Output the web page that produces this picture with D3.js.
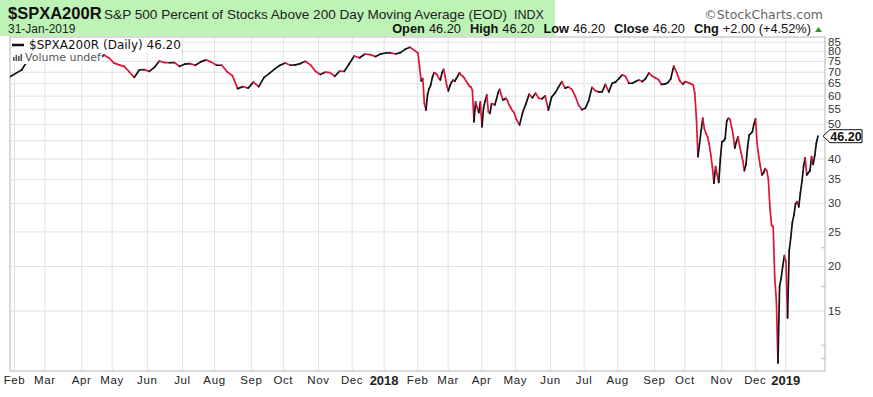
<!DOCTYPE html>
<meta charset="utf-8">
<head>
<style>
  body { margin: 0; background: #fff; }
  svg text { font-family: "Liberation Sans", Arial, sans-serif; }
  .grid line { stroke: #e2e2e2; }
  .grid path { display: none; }
</style>
<title>$SPXA200R</title>
</head>
<svg width="873" height="397"></svg>
<script src="https://cdn.jsdelivr.net/npm/d3@7"></script>
<script>

// header texts
var symbol = "$SPXA200R";
var title = "S&P 500 Percent of Stocks Above 200 Day Moving Average (EOD)";
var exchange = "INDX";
var dateLabel = "31-Jan-2019";
var quoteLabels = ["Open", "High", "Low", "Close", "Chg"];
var quoteValues = ["46.20", "46.20", "46.20", "46.20", "+2.00 (+4.52%)"];
var lastValue = 46.20;

// months from Jan 2017 to Jan 2019, trading days in each
var monthNames = ["Jan","Feb","Mar","Apr","May","Jun","Jul","Aug","Sep","Oct","Nov","Dec"];
var tradingDays = [20,19,23,19,22,22,20,23,20,22,21,20, 21,19,21,21,22,21,21,23,19,23,21,19, 21];

// values, each month spread over its trading days
var vals2017 = [
  [70, 69, 68.5, 67.8],
  [69.5, 70.8, 74.5, 76, 77.5, 76.5],
  [78, 77, 76, 74.5, 75.5, 74, 75],
  [76, 75, 74.5, 76, 78, 76.5],
  [74, 73.2, 72.5, 70, 67.5, 70.8, 71],
  [70.2, 72, 75, 74.3, 74.2, 74.3, 72.5],
  [73.5, 73.8, 73, 74.6, 75.6, 74.5],
  [73, 73, 70, 68.3, 62.8, 63.6, 63],
  [65.5, 63.6, 67.5, 69.3, 71.3, 73],
  [74.1, 73, 73.2, 73.8, 74.9, 73.2, 70.2],
  [68.8, 69.8, 69.6, 68, 70.3, 70.2, 73.7],
  [77.5, 76.6, 78.5, 78.2, 77.2, 78.6]
];
var vals2018 = [
  [79, 79.1, 78.5, 79.2, 80.9, 82, 80.2],
  [79, 72, 66, 67, 57, 54.7, 60.5, 62.8, 64.3, 67.5, 69.6, 69.3, 68.6, 67.2, 66.4, 69.5, 71.1, 68, 64],
  [61.9, 64, 65.5, 66.4, 65.8, 67.1, 68.3, 69.6, 68.5, 68, 67.2, 66, 65, 63.8, 63.5, 62.2, 50.7, 57.7, 55.5, 53.8, 57.7],
  [49.1, 55.5, 58, 60.3, 54, 53.5, 57, 56.8, 56.5, 58.5, 61, 62.5, 60.5, 58.4, 58.6, 59, 58, 56.5, 55.5, 54.5, 53.8],
  [51.5, 49.7, 54, 57, 60.6, 59.2, 61, 59, 58.8, 59.9, 54.7],
  [59.5, 61, 63.3, 65.7, 63, 63.5, 62.5, 59.9, 56.5, 54.8],
  [55.3, 58, 63.3, 62, 61.5, 61.5, 64.5, 61.5, 65, 65.5],
  [67, 68.6, 68, 65, 65, 65.7, 66.4, 65.7, 67, 69.5, 68],
  [67.3, 66.5, 64.5, 64.6, 65.2, 66.8, 72.6, 69.5, 66, 64.6],
  [65.7, 65.5, 65.2, 65, 64.6, 64.3, 61, 52, 40.5, 44, 48, 51.9, 48.5, 47, 46, 44, 41, 37.9, 34.1, 38, 36, 34.3, 40],
  [44.6, 44.8, 45.5, 51, 51.9, 51.5, 49, 46.6, 42.8, 44.5, 46, 43.5, 41.5, 39.5, 37, 38.5, 43, 46.5, 47, 47.5, 50],
  [51.7, 44, 40.5, 38, 36, 36.5, 37.5, 37, 35, 29, 26, 25.8, 18.5, 16, 10.7, 17.5, 18.5, 20, 21.4]
];
var vals2019 = [
  [20.6, 14.3, 22, 24, 26.5, 27.8, 29.9, 30.3, 29.3, 32, 34.5, 38, 40.2, 36, 36.5, 37, 40.5, 38.5, 40.8, 44.2, 46.2]
];

var yGrid = [15, 20, 25, 30, 35, 40, 45, 50, 55, 60, 65, 70, 75, 80, 85];
var yMinor = [11, 12, 17.5, 22.5];

var svg = d3.select("svg");
var plotL = 10, plotR = 825, plotT = 37, plotB = 371;

var x = d3.scaleLinear().domain([-2.5, 506.9]).range([plotL, plotR]);
var y = d3.scaleLog().domain([10.16, 87.6]).range([plotB, plotT]);

// points by trading day
var allMonths = vals2017.concat(vals2018, vals2019);
var pts = [], starts = [];
var d0 = -tradingDays[0];
allMonths.forEach(function(vals, m) {
  starts.push({ d: d0, month: m % 12, year: 2017 + Math.floor(m / 12) });
  vals.forEach(function(v, i) {
    pts.push({ d: d0 + (i + 0.5) * tradingDays[m] / vals.length, v: v });
  });
  d0 += tradingDays[m];
});
var ticks = starts.filter(function(s) { return s.d >= x.domain()[0]; });

// header
svg.append("rect").attr("x", 0).attr("y", 0).attr("width", 555).attr("height", 36)
  .attr("fill", "#bdf3b5");
svg.append("text").attr("x", 8).attr("y", 19).attr("font-size", "16.5px")
  .attr("font-weight", "bold").attr("fill", "#111").text(symbol);
svg.append("text").attr("x", 104).attr("y", 19).attr("font-size", "13.6px")
  .attr("fill", "#222").text(title);
svg.append("text").attr("x", 514).attr("y", 19).attr("font-size", "12.5px")
  .attr("fill", "#222").text(exchange);
svg.append("text").attr("x", 823).attr("y", 19).attr("text-anchor", "end")
  .attr("font-size", "12.5px").attr("fill", "#666")
  .style("font-family", "'DejaVu Sans', sans-serif").text("\u00a9StockCharts.com");
svg.append("text").attr("x", 8).attr("y", 33).attr("font-size", "12px")
  .attr("fill", "#222").text(dateLabel);

var quote = svg.append("text").attr("x", 811).attr("y", 33).attr("text-anchor", "end")
  .attr("font-size", "12.8px").attr("fill", "#111");
quoteLabels.forEach(function(l, i) {
  quote.append("tspan").attr("dx", i ? 9 : 0).attr("font-weight", "bold").text(l);
  quote.append("tspan").attr("dx", 4).text(quoteValues[i]);
});
svg.append("path").attr("d", "M815,32 L822,32 L818.5,27 Z").attr("fill", "#2c9a2c");

// grid and axes
svg.append("g").attr("class", "grid")
  .attr("transform", "translate(" + plotR + ",0)")
  .call(d3.axisRight(y).tickValues(yGrid).tickSize(-(plotR - plotL)).tickPadding(3)
    .tickFormat(function(v) { return Math.abs(y(v) - y(lastValue)) < 9 ? "" : v; }))
  .call(function(g) {
    g.selectAll("text").attr("font-size", "11.5px").attr("fill", "#333")
      .style("font-family", "'Liberation Sans', Arial, sans-serif");
  });

svg.append("g").attr("class", "grid")
  .attr("transform", "translate(0," + plotB + ")")
  .call(d3.axisBottom(x).tickValues(ticks.map(function(t) { return t.d; }))
    .tickSize(-(plotB - plotT)).tickPadding(5)
    .tickFormat(function(d, i) {
      var t = ticks[i];
      return t.month === 0 ? t.year : monthNames[t.month];
    }))
  .call(function(g) {
    g.selectAll("text").attr("font-size", "11.5px").attr("fill", "#222")
      .style("letter-spacing", "0.6px")
      .style("font-family", "'Liberation Sans', Arial, sans-serif")
      .filter(function(d, i) { return ticks[i].month === 0; })
      .attr("font-weight", "bold").attr("font-size", "13px").style("letter-spacing", "0");
  });

// minor ticks on the right edge
svg.append("g").selectAll("line").data(yMinor).enter().append("line")
  .attr("x1", plotR - 4).attr("x2", plotR)
  .attr("y1", function(v) { return y(v); }).attr("y2", function(v) { return y(v); })
  .attr("stroke", "#bbb");

// frame
svg.append("rect").attr("x", plotL).attr("y", plotT)
  .attr("width", plotR - plotL).attr("height", plotB - plotT)
  .attr("fill", "none").attr("stroke", "#b5b5b5");

// line, black when rising and red when falling
svg.append("clipPath").attr("id", "clip").append("rect")
  .attr("x", plotL).attr("y", plotT).attr("width", plotR - plotL).attr("height", plotB - plotT);

var line = d3.line()
  .x(function(p) { return x(p.d); })
  .y(function(p) { return y(p.v); });

var segs = d3.pairs(pts);
svg.append("g").attr("clip-path", "url(#clip)")
  .selectAll("path").data(segs).enter().append("path")
  .attr("d", function(s) { return line(s); })
  .attr("fill", "none")
  .attr("stroke-width", 1.7)
  .attr("stroke-linecap", "round")
  .attr("stroke", function(s) { return s[1].v >= s[0].v ? "#111" : "#dc143c"; });

// legend
var leg = svg.append("g");
var t1 = leg.append("text").attr("x", 29).attr("y", 49).attr("font-size", "12px")
  .attr("fill", "#111").style("font-family", "'DejaVu Sans', sans-serif")
  .text(symbol + " (Daily) " + lastValue.toFixed(2));
var t2 = leg.append("text").attr("x", 25).attr("y", 61).attr("font-size", "11px")
  .attr("fill", "#555").style("font-family", "'DejaVu Sans', sans-serif")
  .text("Volume undef");
[t1, t2].forEach(function(t) {
  var b = t.node().getBBox();
  leg.insert("rect", "text").attr("x", 11).attr("y", b.y + 1)
    .attr("width", b.x + b.width - 11).attr("height", b.height - 1).attr("fill", "#fff");
});
leg.append("line").attr("x1", 12).attr("x2", 24).attr("y1", 45).attr("y2", 45)
  .attr("stroke", "#111").attr("stroke-width", 2.5);
[4, 6, 5, 7].forEach(function(h, i) {
  leg.append("rect").attr("x", 13 + i * 2.5).attr("y", 61 - h)
    .attr("width", 1.6).attr("height", h).attr("fill", "#555");
});

// last value marker
var my = y(lastValue);
svg.append("path")
  .attr("d", "M823," + my + " L830," + (my - 6.5) + " L862," + (my - 6.5) +
    " L862," + (my + 6.5) + " L830," + (my + 6.5) + " Z")
  .attr("fill", "#fff").attr("stroke", "#111").attr("stroke-width", 1);
svg.append("text").attr("x", 846).attr("y", my).attr("dy", "0.36em")
  .attr("text-anchor", "middle").attr("font-size", "12.5px").attr("font-weight", "bold")
  .attr("fill", "#111").text(lastValue.toFixed(2));

</script>
